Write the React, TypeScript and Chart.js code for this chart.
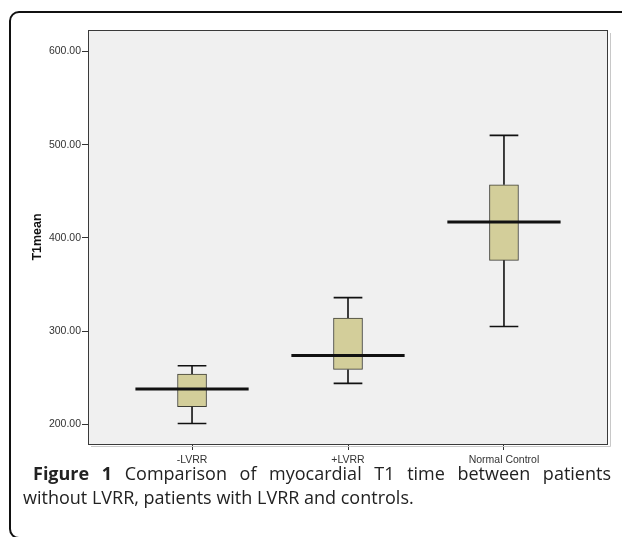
import React, { useEffect, useRef } from "react";
import { Chart, registerables } from "chart.js";

Chart.register(...registerables);

const categories = ["-LVRR", "+LVRR", "Normal Control"];
const minValues = [201, 244, 305];
const q1Values = [219, 259, 376];
const medianValues = [238, 274, 417];
const q3Values = [254, 314, 457];
const maxValues = [263, 336, 510];
const yTicks = [200, 300, 400, 500, 600];

const BOX_HALF = 0.092;
const MEDIAN_HALF = 0.363;

function segments(build: (i: number) => { x: number; y: number }[]) {
  const out: { x: number; y: number | null }[] = [];
  categories.forEach((_, i) => {
    out.push(...build(i));
    out.push({ x: i, y: null });
  });
  return out;
}

const framePlugin = {
  id: "frame",
  beforeDraw(chart: any) {
    const { ctx, chartArea: a } = chart;
    ctx.save();
    ctx.fillStyle = "#F0F0F0";
    ctx.fillRect(a.left, a.top, a.right - a.left, a.bottom - a.top);
    ctx.restore();
  },
  afterDraw(chart: any) {
    const { ctx, chartArea: a } = chart;
    ctx.save();
    ctx.strokeStyle = "#C8C8C8";
    ctx.lineWidth = 1;
    ctx.beginPath();
    ctx.moveTo(a.right + 2.5, a.top + 3);
    ctx.lineTo(a.right + 2.5, a.bottom + 2.5);
    ctx.lineTo(a.left + 3, a.bottom + 2.5);
    ctx.stroke();
    ctx.strokeStyle = "#3a3a3a";
    ctx.strokeRect(a.left + 0.5, a.top + 0.5, a.right - a.left - 1, a.bottom - a.top);
    ctx.restore();
  },
};

export default function App() {
  const ref = useRef<HTMLCanvasElement | null>(null);

  useEffect(() => {
    if (!ref.current) return;
    const font = { family: "Arial, 'Liberation Sans', sans-serif", size: 10.5 };
    const line = (build: (i: number) => { x: number; y: number }[], width: number, order: number) =>
      ({
        type: "line",
        data: segments(build),
        borderColor: "#111",
        borderWidth: width,
        pointRadius: 0,
        spanGaps: false,
        order,
      } as any);
    const chart = new Chart(ref.current, {
      type: "bar",
      data: {
        datasets: [
          line(
            (i) => [
              { x: i - MEDIAN_HALF, y: medianValues[i] },
              { x: i + MEDIAN_HALF, y: medianValues[i] },
            ],
            3,
            0
          ),
          line(
            (i) => [
              { x: i, y: q3Values[i] },
              { x: i, y: maxValues[i] },
            ],
            1.6,
            1
          ),
          line(
            (i) => [
              { x: i, y: q1Values[i] },
              { x: i, y: minValues[i] },
            ],
            1.6,
            1
          ),
          line(
            (i) => [
              { x: i - BOX_HALF, y: maxValues[i] },
              { x: i + BOX_HALF, y: maxValues[i] },
            ],
            1.6,
            1
          ),
          line(
            (i) => [
              { x: i - BOX_HALF, y: minValues[i] },
              { x: i + BOX_HALF, y: minValues[i] },
            ],
            1.6,
            1
          ),
          {
            type: "bar",
            data: categories.map((_, i) => ({ x: i, y: [q1Values[i], q3Values[i]] })),
            backgroundColor: "#D3CE9A",
            borderColor: "#3d3d35",
            borderWidth: 1,
            borderSkipped: false,
            barThickness: 29,
            grouped: false,
            order: 3,
          } as any,
        ],
      },
      options: {
        animation: false,
        responsive: false,
        maintainAspectRatio: false,
        layout: { padding: { top: 30, right: 14, bottom: 0, left: 0 } },
        plugins: { legend: { display: false }, tooltip: { enabled: false } },
        scales: {
          x: {
            type: "linear",
            offset: false,
            min: -0.667,
            max: 2.667,
            afterBuildTicks: (s: any) => {
              s.ticks = categories.map((_, i) => ({ value: i }));
            },
            afterFit: (s: any) => {
              s.height = 30;
            },
            ticks: {
              callback: (v: any) => categories[Number(v)] ?? "",
              font,
              color: "#333",
              padding: 4,
              maxRotation: 0,
              autoSkip: false,
            },
            grid: {
              drawOnChartArea: false,
              drawTicks: true,
              tickLength: 6,
              color: "#333",
              offset: false,
            },
            border: { display: false },
          },
          y: {
            type: "linear",
            min: 179,
            max: 623,
            afterBuildTicks: (s: any) => {
              s.ticks = yTicks.map((v) => ({ value: v }));
            },
            afterFit: (s: any) => {
              s.width = 88;
            },
            ticks: {
              callback: (v: any) => Number(v).toFixed(2),
              font,
              color: "#333",
              padding: 1,
            },
            grid: {
              drawOnChartArea: false,
              drawTicks: true,
              tickLength: 6,
              color: "#333",
            },
            border: { display: false },
            title: {
              display: true,
              text: "T1mean",
              font: { family: "Arial, 'Liberation Sans', sans-serif", size: 12.5, weight: "bold" },
              color: "#111",
              padding: { top: 30, bottom: 0 },
            },
          },
        },
      },
      plugins: [framePlugin],
    } as any);
    return () => chart.destroy();
  }, []);

  const captionFont = {
    fontFamily: "'Open Sans', sans-serif",
    fontSize: 18,
    lineHeight: "24px",
    color: "#222",
    whiteSpace: "nowrap" as const,
  };

  return (
    <div
      style={{
        position: "fixed",
        left: 0,
        top: 0,
        width: 622,
        height: 537,
        background: "#fff",
        overflow: "hidden",
      }}
    >
      <div
        style={{
          position: "absolute",
          left: 9,
          top: 11,
          width: 660,
          height: 524,
          border: "2px solid #111",
          borderRadius: 10,
        }}
      />
      <canvas
        ref={ref}
        width={622}
        height={474}
        style={{ position: "absolute", left: 0, top: 0, width: 622, height: 474 }}
      />
      <div
        style={{
          ...captionFont,
          position: "absolute",
          left: 33,
          top: 461,
          width: 578,
          textAlign: "justify",
          textAlignLast: "justify",
        }}
      >
        <b>Figure 1</b> Comparison of myocardial T1 time between patients
      </div>
      <div
        style={{
          ...captionFont,
          position: "absolute",
          left: 23,
          top: 485,
        }}
      >
        without LVRR, patients with LVRR and controls.
      </div>
    </div>
  );
}
